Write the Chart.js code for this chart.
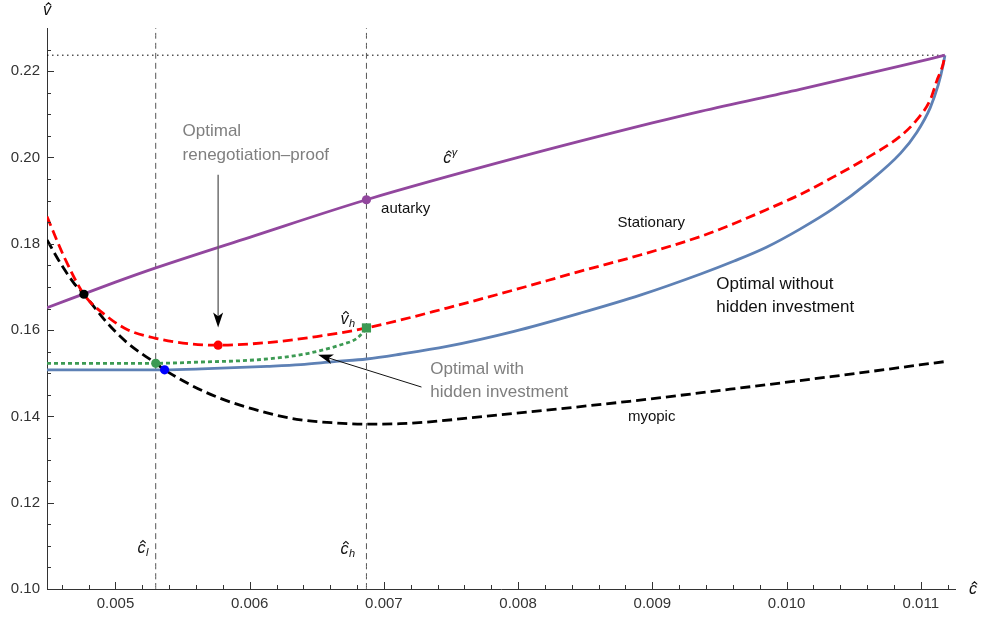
<!DOCTYPE html>
<html>
<head>
<meta charset="utf-8">
<script src="https://cdn.jsdelivr.net/npm/chart.js@4.4.1/dist/chart.umd.min.js"></script>
<style>
  html, body { margin: 0; padding: 0; background: #fff; }
  #wrap { width: 982px; height: 619px; }
</style>
</head>
<body>
<div id="wrap"><canvas id="chart" width="982" height="619"></canvas></div>
<script>
const FONT = '"Liberation Sans", Arial, sans-serif';

// Axis range and tick labels
const xRange = [0.00449, 0.011255];
const yRange = [0.10, 0.23];
const xTicks = [0.005, 0.006, 0.007, 0.008, 0.009, 0.010, 0.011];
const yTicks = [0.10, 0.12, 0.14, 0.16, 0.18, 0.20, 0.22];

// Reference levels
const cLow = 0.0053;
const cHigh = 0.00687;
const cEnd = 0.01118;
const vTop = 0.2237;

// Curves, as [c, v] pairs
const autarkyCurve = [
    [0.00449, 0.1652], [0.00500, 0.1711], [0.00530, 0.1744], [0.00600, 0.1815],
    [0.00687, 0.1902], [0.00800, 0.2000], [0.00900, 0.2080], [0.00936, 0.2107],
    [0.01010, 0.2158], [0.01085, 0.2212], [0.01118, 0.2237]
];
const stationary = [
    [0.00449, 0.1863], [0.00462, 0.1768], [0.004765, 0.1683], [0.00494, 0.1631],
    [0.00509, 0.1601], [0.00530, 0.1581], [0.00556, 0.1568], [0.005765, 0.1565],
    [0.00613, 0.1571], [0.00650, 0.1585], [0.00687, 0.1605], [0.00747, 0.1651],
    [0.00797, 0.1693], [0.00846, 0.1736], [0.00891, 0.1774], [0.00936, 0.1817],
    [0.00961, 0.1847], [0.00985, 0.1879], [0.01010, 0.1914], [0.01035, 0.1955],
    [0.01060, 0.1999], [0.01085, 0.2050], [0.01097, 0.2087], [0.01107, 0.2133],
    [0.01112, 0.2178], [0.011165, 0.2215], [0.01118, 0.2237]
];
const optimalWithout = [
    [0.00449, 0.1508], [0.00536, 0.1508], [0.00564, 0.1510], [0.00613, 0.1516],
    [0.00638, 0.1520], [0.00663, 0.1527], [0.00687, 0.1533], [0.00712, 0.1544],
    [0.00747, 0.1562], [0.00797, 0.1597], [0.00846, 0.1639], [0.00891, 0.1681],
    [0.00936, 0.1730], [0.00961, 0.1760], [0.00985, 0.1792], [0.01010, 0.1834],
    [0.01035, 0.1882], [0.01060, 0.1940], [0.01085, 0.2010], [0.01097, 0.2058],
    [0.01107, 0.2115], [0.01113, 0.2168], [0.011165, 0.2212], [0.01118, 0.2237]
];
const optimalWith = [
    [0.00449, 0.1523], [0.00530, 0.1523], [0.00564, 0.1526], [0.00600, 0.1530],
    [0.00625, 0.1537], [0.00645, 0.1547], [0.00668, 0.1566], [0.00680, 0.1581],
    [0.00685, 0.1597], [0.00687, 0.1605]
];
const myopic = [
    [0.00449, 0.1809], [0.00459, 0.1755], [0.00469, 0.1709], [0.004765, 0.1683],
    [0.00494, 0.1616], [0.00509, 0.1570], [0.00530, 0.1523], [0.005366, 0.1508],
    [0.00556, 0.1473], [0.00578, 0.1442], [0.00613, 0.1408], [0.00638, 0.1392],
    [0.00663, 0.1385], [0.00687, 0.1382], [0.00712, 0.1383], [0.00787, 0.1404],
    [0.00883, 0.1435], [0.00958, 0.1463], [0.01033, 0.1492], [0.01118, 0.1527]
];

// Marked points
const pointAutarky = [0.00687, 0.1902];
const pointCross = [0.004765, 0.1683];
const pointRenegotiation = [0.005765, 0.1565];
const pointLowWith = [0.0053, 0.1523];
const pointLowWithout = [0.005366, 0.1508];
const pointHigh = [0.00687, 0.1605];

// Minor ticks between the labelled ones
const xMinor = [];
for (let i = 23; i <= 56; i++) xMinor.push(i * 0.0002);
const yMinor = [];
for (let i = 21; i <= 45; i++) yMinor.push(i * 0.005);

// Text notes (anchored in data coordinates)
const notes = [
    { text: 'Optimal', c: 0.00550, v: 0.2060, size: 17, color: '#7f7f7f' },
    { text: 'renegotiation\u2013proof', c: 0.00550, v: 0.2006, size: 17, color: '#7f7f7f' },
    { text: 'Optimal with', c: 0.007346, v: 0.1510, size: 17, color: '#7f7f7f' },
    { text: 'hidden investment', c: 0.007346, v: 0.1455, size: 17, color: '#7f7f7f' },
    { text: 'Optimal without', c: 0.009476, v: 0.1706, size: 17, color: '#111' },
    { text: 'hidden investment', c: 0.009476, v: 0.1653, size: 17, color: '#111' },
    { text: 'Stationary', c: 0.008741, v: 0.1848, size: 15, color: '#111' },
    { text: 'autarky', c: 0.006979, v: 0.1881, size: 15, color: '#111' },
    { text: 'myopic', c: 0.008818, v: 0.1398, size: 15, color: '#111' }
];
const mathNotes = [
    { base: 'c', sub: 'l', sup: '', c: 0.005164, v: 0.1084 },
    { base: 'c', sub: 'h', sup: '', c: 0.006676, v: 0.1082 },
    { base: 'v', sub: 'h', sup: '', c: 0.006676, v: 0.1615 },
    { base: 'c', sub: '', sup: '\u03b3', c: 0.007443, v: 0.1987 }
];
const arrows = [
    { from: [0.005765, 0.1960], to: [0.005765, 0.1606], color: '#666', width: 1.4 },
    { from: [0.00728, 0.1468], to: [0.00651, 0.1543], color: '#111', width: 1 }
];

const toXY = pairs => pairs.map(([x, y]) => ({ x, y }));

function line(label, pairs, color, dash, width) {
    return {
        label: label,
        data: toXY(pairs),
        showLine: true,
        borderColor: color,
        borderWidth: width || 2.8,
        borderDash: dash || [],
        pointRadius: 0,
        cubicInterpolationMode: 'monotone',
        fill: false
    };
}

function dot(label, p, color, style, radius) {
    return {
        label: label,
        data: toXY([p]),
        showLine: false,
        pointStyle: style || 'circle',
        pointRadius: radius || 4.6,
        pointBackgroundColor: color,
        pointBorderWidth: 0
    };
}

// Hatted italic letter with optional sub/superscript, left edge x, baseline y
function drawHatted(ctx, base, sub, sup, x, y, size) {
    ctx.font = 'italic ' + size + 'px ' + FONT;
    ctx.textAlign = 'left';
    ctx.textBaseline = 'alphabetic';
    ctx.fillStyle = '#111';
    const w = ctx.measureText(base).width;
    ctx.fillText(base, x, y);
    const cx = x + w / 2 + 1.5;
    const half = size * 0.17;
    ctx.strokeStyle = '#111';
    ctx.lineWidth = 1.1;
    ctx.beginPath();
    ctx.moveTo(cx - half, y - size * 0.6);
    ctx.lineTo(cx, y - size * 0.76);
    ctx.lineTo(cx + half, y - size * 0.6);
    ctx.stroke();
    ctx.font = 'italic ' + Math.round(size * 0.7) + 'px ' + FONT;
    if (sub) ctx.fillText(sub, x + w + 0.5, y + 3);
    if (sup) ctx.fillText(sup, x + w + 0.5, y - 7);
}

function drawArrow(ctx, x1, y1, x2, y2, color, width) {
    const ang = Math.atan2(y2 - y1, x2 - x1);
    const cs = Math.cos(ang), sn = Math.sin(ang);
    const len = 15, half = 5;
    const bx = x2 - len * cs, by = y2 - len * sn;
    ctx.strokeStyle = color;
    ctx.lineWidth = width;
    ctx.beginPath();
    ctx.moveTo(x1, y1);
    ctx.lineTo(x2 - len * 0.7 * cs, y2 - len * 0.7 * sn);
    ctx.stroke();
    ctx.fillStyle = '#000';
    ctx.beginPath();
    ctx.moveTo(x2, y2);
    ctx.lineTo(bx - half * sn, by + half * cs);
    ctx.lineTo(x2 - len * 0.75 * cs, y2 - len * 0.75 * sn);
    ctx.lineTo(bx + half * sn, by - half * cs);
    ctx.closePath();
    ctx.fill();
}

const overlay = {
    id: 'overlay',
    afterDraw(chart) {
        const { ctx, chartArea: area } = chart;
        const sx = chart.scales.x, sy = chart.scales.y;
        const px = c => sx.getPixelForValue(c);
        const py = v => sy.getPixelForValue(v);
        ctx.save();

        // Inward ticks
        ctx.strokeStyle = '#333';
        ctx.lineWidth = 1;
        ctx.beginPath();
        xMinor.forEach(c => {
            const X = Math.round(px(c)) + 0.5;
            ctx.moveTo(X, area.bottom);
            ctx.lineTo(X, area.bottom - 4);
        });
        xTicks.forEach(c => {
            const X = Math.round(px(c)) + 0.5;
            ctx.moveTo(X, area.bottom);
            ctx.lineTo(X, area.bottom - 7);
        });
        yMinor.forEach(v => {
            const Y = Math.round(py(v)) + 0.5;
            ctx.moveTo(area.left, Y);
            ctx.lineTo(area.left + 4, Y);
        });
        yTicks.forEach(v => {
            const Y = Math.round(py(v)) + 0.5;
            ctx.moveTo(area.left, Y);
            ctx.lineTo(area.left + 7, Y);
        });
        ctx.stroke();

        // Arrows
        arrows.forEach(a => drawArrow(ctx, px(a.from[0]), py(a.from[1]), px(a.to[0]), py(a.to[1]), a.color, a.width));

        // Notes
        ctx.textAlign = 'left';
        ctx.textBaseline = 'middle';
        notes.forEach(n => {
            ctx.font = n.size + 'px ' + FONT;
            ctx.fillStyle = n.color;
            ctx.fillText(n.text, px(n.c), py(n.v));
        });
        mathNotes.forEach(m => drawHatted(ctx, m.base, m.sub, m.sup, px(m.c), py(m.v), 16));

        // Axis names
        drawHatted(ctx, 'c', '', '', area.right + 14, area.bottom + 5, 16);
        drawHatted(ctx, 'v', '', '', area.left - 4, area.top - 13, 16);

        ctx.restore();
    }
};

new Chart(document.getElementById('chart'), {
    type: 'scatter',
    data: {
        datasets: [
            dot('autarky', pointAutarky, '#92479e'),
            dot('crossing', pointCross, '#000'),
            dot('renegotiation-proof', pointRenegotiation, '#ff0000'),
            dot('low with', pointLowWith, '#3c9a53'),
            dot('low without', pointLowWithout, '#0000ff'),
            dot('high', pointHigh, '#3c9a53', 'rect', 6.5),
            line('c gamma', autarkyCurve, '#92479e'),
            line('Stationary', stationary, '#ff0000', [10, 5]),
            line('Optimal with hidden investment', optimalWith, '#3c9a53', [4, 3]),
            line('Optimal without hidden investment', optimalWithout, '#5e81b5'),
            line('myopic', myopic, '#000', [10, 5]),
            line('c low', [[cLow, yRange[0]], [cLow, yRange[1]]], '#555', [6, 4], 1),
            line('c high', [[cHigh, yRange[0]], [cHigh, yRange[1]]], '#555', [6, 4], 1),
            line('v top', [[xRange[0], vTop], [cEnd, vTop]], '#000', [1.5, 3.5], 1)
        ]
    },
    options: {
        responsive: false,
        animation: false,
        events: [],
        layout: { padding: { left: 0, right: 27, top: 28, bottom: 0 } },
        scales: {
            x: {
                type: 'linear',
                min: xRange[0],
                max: xRange[1],
                afterBuildTicks: axis => { axis.ticks = xTicks.map(value => ({ value })); },
                afterFit: axis => { axis.height = 30; },
                grid: { display: false, drawTicks: false },
                border: { display: true, color: '#333', width: 1 },
                ticks: {
                    color: '#333',
                    padding: 6,
                    maxRotation: 0,
                    font: { family: FONT, size: 15 },
                    callback: value => Number(value).toFixed(3)
                }
            },
            y: {
                type: 'linear',
                min: yRange[0],
                max: yRange[1],
                afterBuildTicks: axis => { axis.ticks = yTicks.map(value => ({ value })); },
                afterFit: axis => { axis.width = 47; },
                grid: { display: false, drawTicks: false },
                border: { display: true, color: '#333', width: 1 },
                ticks: {
                    color: '#333',
                    padding: 7,
                    font: { family: FONT, size: 15 },
                    callback: value => Number(value).toFixed(2)
                }
            }
        },
        plugins: {
            legend: { display: false },
            tooltip: { enabled: false }
        }
    },
    plugins: [overlay]
});
</script>
</body>
</html>
